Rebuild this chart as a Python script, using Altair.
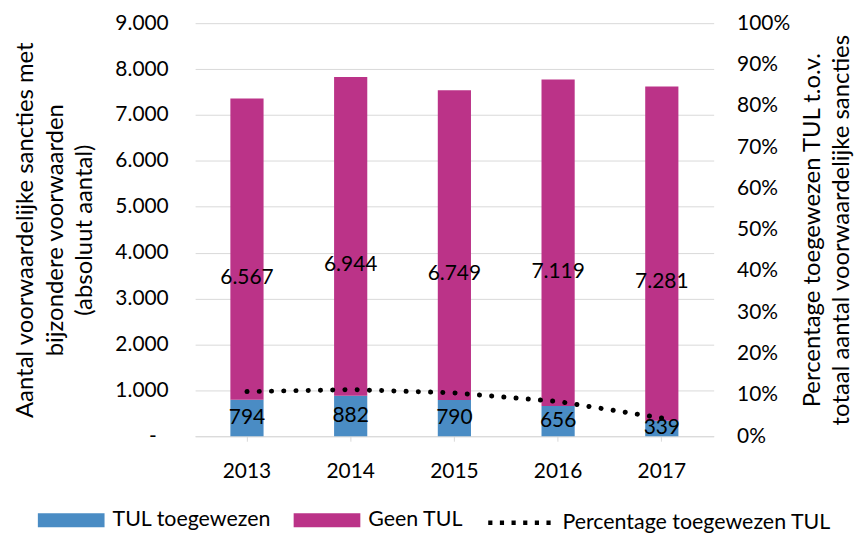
import altair as alt
import pandas as pd

years = ["2013", "2014", "2015", "2016", "2017"]
tul = [794, 882, 790, 656, 339]
geen = [6567, 6944, 6749, 7119, 7281]
pct = [10.8, 11.3, 10.5, 8.4, 4.4]
series = ["TUL toegewezen", "Geen TUL"]
line_name = "Percentage toegewezen TUL"
colors = ["#4A8CC4", "#BB3388"]
left_title = ["Aantal voorwaardelijke sancties met", "bijzondere voorwaarden", "(absoluut aantal)"]
right_title = ["Percentage toegewezen TUL t.o.v.", "totaal aantal voorwaardelijke sancties"]

rows = []
for i, yr in enumerate(years):
    rows.append({"year": yr, "series": series[0], "value": tul[i], "order": 0})
    rows.append({"year": yr, "series": series[1], "value": geen[i], "order": 1})
bars_df = pd.DataFrame(rows)
line_df = pd.DataFrame({"year": years, "pct": [p / 100 for p in pct], "name": line_name})

FONT = "Lato"
GRID = "#d9d9d9"

x_enc = alt.X(
    "year:N", title=None,
    scale=alt.Scale(paddingInner=0.68, paddingOuter=0.34),
    axis=alt.Axis(labelAngle=0, domainColor=GRID, tickColor=GRID, tickSize=5,
                  labelPadding=19, grid=False),
)
y_scale = alt.Scale(domain=[0, 9000])
left_axis = alt.Axis(
    title=left_title, values=list(range(0, 9001, 1000)),
    labelExpr="datum.value == 0 ? '-' : replace(format(datum.value, ',.0f'), ',', '.')",
    labelPadding={"condition": {"test": "datum.value == 0", "value": 39}, "value": 27},
    grid=True, gridColor=GRID, domain=False, ticks=False,
    titleX=-163, titleLineHeight=29.5,
    titleFontSize=24, titleFontWeight="normal", titleBaseline="alphabetic", titleAngle=270,
)

base = alt.Chart(bars_df).transform_stack(
    stack="value", as_=["y0", "y1"], groupby=["year"],
    sort=[alt.SortField("order", order="ascending")],
).transform_calculate(
    mid="(datum.y0 + datum.y1) / 2",
    label="replace(format(datum.value, ',.0f'), ',', '.')",
)

bars = base.mark_bar().encode(
    x=x_enc,
    y=alt.Y("y0:Q", scale=y_scale, axis=left_axis),
    y2="y1:Q",
    color=alt.Color("series:N", scale=alt.Scale(domain=series, range=colors),
                    legend=alt.Legend(orient="none", legendX=-158, legendY=466, direction="horizontal",
                                      title=None, symbolType="M-1,-0.209H1V0.209H-1Z", symbolSize=4489,
                                      symbolStrokeWidth=0, labelOffset=8, columnPadding=22, padding=0,
                                      labelFontSize=21.5, labelFont=FONT, labelColor="black")),
)

txt_tul = base.transform_filter(alt.datum.order == 0).mark_text(
    font=FONT, fontSize=21, color="black", baseline="middle"
).encode(x="year:N", y=alt.Y("mid:Q", scale=y_scale, axis=left_axis), text="label:N")

txt_geen = base.transform_filter(alt.datum.order == 1).mark_text(
    font=FONT, fontSize=21, color="black", baseline="middle", dy=29
).encode(x="year:N", y=alt.Y("mid:Q", scale=y_scale, axis=left_axis), text="label:N")

left = alt.layer(bars, txt_tul, txt_geen)

line = alt.Chart(line_df).mark_line(
    strokeWidth=5, strokeDash=[0.1, 12.2], strokeCap="round"
).encode(
    x="year:N",
    y=alt.Y("pct:Q", scale=alt.Scale(domain=[0, 1]),
            axis=alt.Axis(orient="right", format=".0%", title=right_title, values=[i / 10 for i in range(11)],
                          grid=False, domain=False, ticks=False, labelPadding=23,
                          titleX=106, titleLineHeight=29, titleAngle=270, titleBaseline="alphabetic",
                          titleFontSize=24, titleFontWeight="normal")),
    stroke=alt.Stroke("name:N", scale=alt.Scale(domain=[line_name], range=["black"]),
                      legend=alt.Legend(orient="none", legendX=292, legendY=466, title=None,
                                        symbolType="stroke", symbolSize=4489, symbolStrokeWidth=4.6,
                                        symbolDash=[4.2, 7.5], labelOffset=5, padding=0, labelLimit=400,
                                        labelFontSize=21.5, labelFont=FONT, labelColor="black")),
)

chart = alt.layer(left, line).resolve_scale(y="independent").properties(
    width=521, height=415,
    padding={"left": 188, "top": 14, "right": 141, "bottom": 97},
    autosize=alt.AutoSizeParams(type="none"),
    background="white",
).configure_axis(
    labelFont=FONT, labelFontSize=21, labelColor="black",
    titleFont=FONT, titleColor="black",
).configure_view(stroke=None)

chart.save("out.html", embed_options={"renderer": "svg", "actions": False})
